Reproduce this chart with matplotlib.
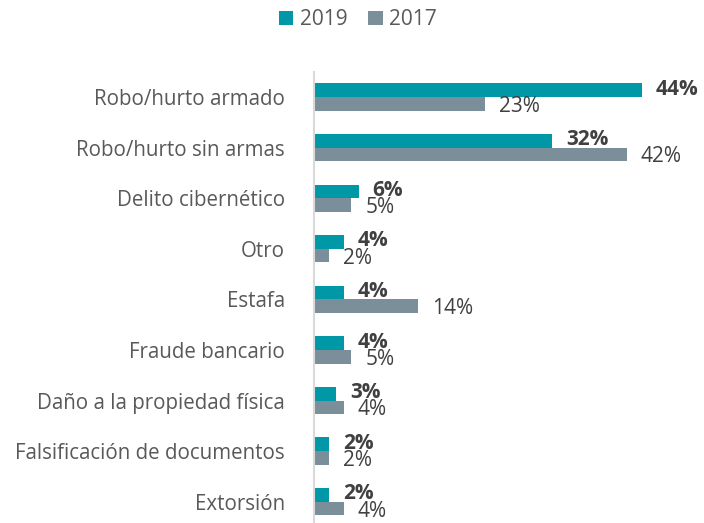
import matplotlib
matplotlib.use("Agg")
import matplotlib.pyplot as plt
import numpy as np
from matplotlib.transforms import offset_copy

categories = ["Robo/hurto armado", "Robo/hurto sin armas", "Delito cibernético", "Otro",
              "Estafa", "Fraude bancario", "Daño a la propiedad física",
              "Falsificación de documentos", "Extorsión"]
values_2019 = [44, 32, 6, 4, 4, 4, 3, 2, 2]
values_2017 = [23, 42, 5, 2, 14, 5, 4, 2, 4]
series_names = ["2019", "2017"]

C19 = "#0097A7"
C17 = "#7A8F99"
plt.rcParams['font.family'] = ['Open Sans', 'DejaVu Sans']

fig = plt.figure(figsize=(7.04, 5.23), dpi=100)
W, H = 704, 523
left, right = 314, 314 + 7.45 * 50
top, bottom = 71.7, 527.0
ax = fig.add_axes([left / W, 1 - bottom / H, (right - left) / W, (bottom - top) / H])

y = np.arange(len(categories))
h = 0.27
ax.barh(y - h / 2, values_2019, height=h, color=C19, label=series_names[0])
ax.barh(y + h / 2, values_2017, height=h, color=C17, label=series_names[1])

ax.set_xlim(0, 50)
ax.set_ylim(len(categories) - 0.5, -0.5)
ax.set_yticks(y)
ax.set_yticklabels(categories, fontsize=14.8, color="#595959")
ax.tick_params(axis='y', length=0, pad=21)
ax.set_xticks([])
for s in ["top", "right", "bottom"]:
    ax.spines[s].set_visible(False)
ax.spines["left"].set_color("#D9D9D9")
ax.spines["left"].set_linewidth(1.5)

tr = offset_copy(ax.transData, fig=fig, x=14, y=0, units='dots')
for i, (a, b) in enumerate(zip(values_2019, values_2017)):
    ax.text(a, i - h / 2 - 0.02, f"{a}%", transform=tr, ha='left', va='center',
            fontsize=15, fontweight='bold', color="#404040")
    ax.text(b, i + h / 2 + 0.05, f"{b}%", transform=tr, ha='left', va='center',
            fontsize=15, color="#404040")

leg = fig.legend(loc='upper center', bbox_to_anchor=(0.508, 1.018), ncol=2, frameon=False,
                 fontsize=15, handlelength=0.7, handleheight=0.7, handletextpad=0.3,
                 columnspacing=1.0)
for t in leg.get_texts():
    t.set_color("#595959")

fig.savefig("out.png", dpi=100)
